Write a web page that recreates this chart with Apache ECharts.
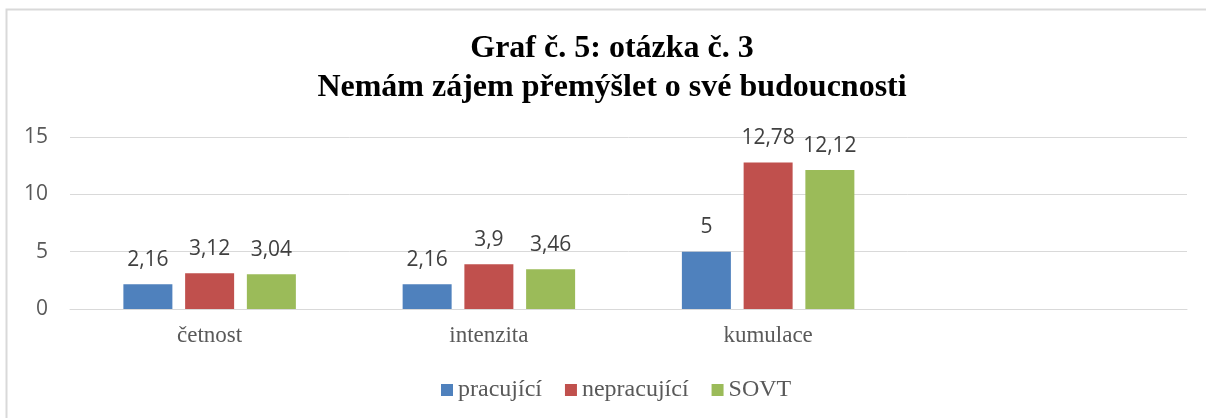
<!DOCTYPE html>
<html>
<head>
<meta charset="utf-8">
<script src="https://cdn.jsdelivr.net/npm/echarts@6/dist/echarts.min.js"></script>
<style>
html, body { margin: 0; padding: 0; background: #fff; }
#chart { width: 1206px; height: 418px; }
</style>
</head>
<body>
<div id="chart"></div>
<script>
// Graf č. 5: otázka č. 3
var categories = ['četnost', 'intenzita', 'kumulace', ''];
var pracujici = [2.16, 2.16, 5];
var nepracujici = [3.12, 3.9, 12.78];
var sovt = [3.04, 3.46, 12.12];
var seriesNames = ['pracující', 'nepracující', 'SOVT'];
var seriesColors = ['#4F81BD', '#C0504D', '#9BBB59'];

var chartInstance = echarts.init(document.getElementById('chart'));

function makeSeries(name, data, color){
    return {
        name: name,
        type: 'bar',
        data: data,
        barWidth: 49,
        barGap: '26%',
        itemStyle: { color: color },
        label: {
            show: true,
            position: 'top',
            distance: 14,
            color: '#404040',
            fontFamily: 'Open Sans',
            fontSize: 21,
            lineHeight: 21,
            formatter: function(p){ return String(p.value).replace('.', ','); }
        }
    };
}

var option = {
    animation: false,
    backgroundColor: '#fff',
    title: {
        text: 'Graf č. 5: otázka č. 3\nNemám zájem přemýšlet o své budoucnosti',
        left: 607,
        top: 24,
        textAlign: 'center',
        textStyle: {
            fontFamily: 'Liberation Serif',
            fontWeight: 'bold',
            fontSize: 32,
            lineHeight: 39,
            color: '#000'
        }
    },
    graphic: [{
        type: 'rect',
        shape: { x: 6.5, y: 9.5, width: 1220, height: 440 },
        style: { fill: 'none', stroke: '#d9d9d9', lineWidth: 2 },
        silent: true
    }],
    legend: {
        data: seriesNames,
        left: 436,
        top: 373,
        icon: 'rect',
        itemWidth: 12,
        itemHeight: 12,
        itemGap: 23,
        textStyle: {
            fontFamily: 'Liberation Serif',
            fontSize: 24,
            lineHeight: 22,
            color: '#595959'
        }
    },
    grid: {
        left: 70,
        right: 19,
        top: 137,
        bottom: 109
    },
    xAxis: {
        type: 'category',
        data: categories,
        axisLine: { lineStyle: { color: '#d9d9d9', width: 1 } },
        axisTick: { show: false },
        axisLabel: {
            margin: 16,
            fontFamily: 'Liberation Serif',
            fontSize: 23,
            lineHeight: 22,
            color: '#595959'
        }
    },
    yAxis: {
        type: 'value',
        min: 0,
        max: 15,
        interval: 5,
        axisLine: { show: false },
        axisTick: { show: false },
        axisLabel: {
            margin: 22,
            fontFamily: 'Open Sans',
            fontSize: 21,
            color: '#595959'
        },
        splitLine: { lineStyle: { color: '#d9d9d9', width: 1 } }
    },
    series: [
        makeSeries(seriesNames[0], pracujici, seriesColors[0]),
        makeSeries(seriesNames[1], nepracujici, seriesColors[1]),
        makeSeries(seriesNames[2], sovt, seriesColors[2])
    ]
};
chartInstance.setOption(option, true);
</script>
</body>
</html>
